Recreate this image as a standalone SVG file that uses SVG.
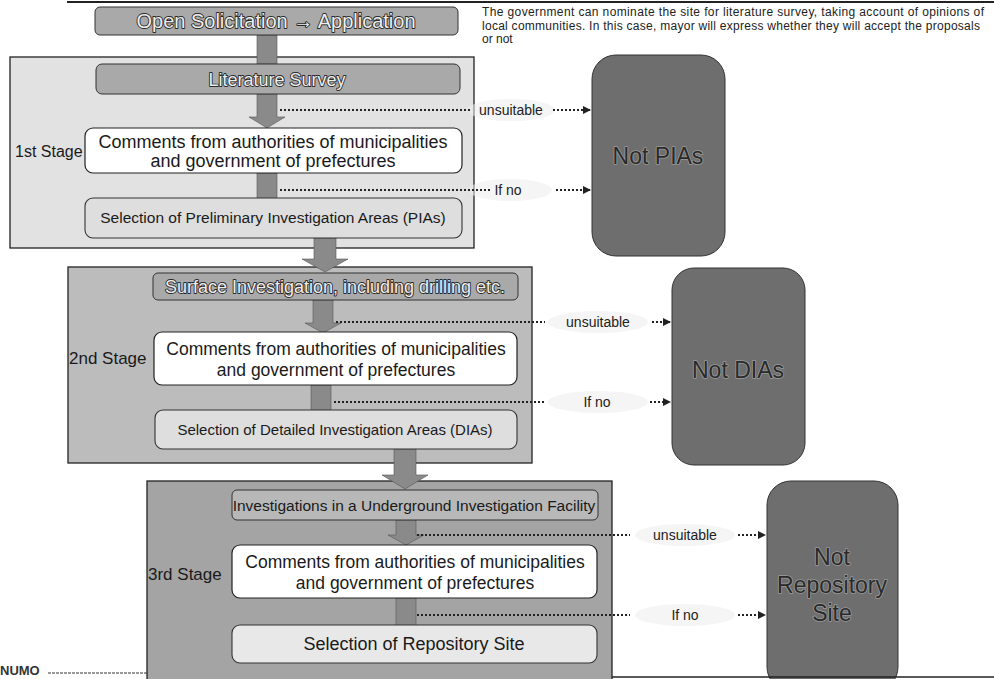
<svg xmlns="http://www.w3.org/2000/svg" width="994" height="679" viewBox="0 0 994 679">
<style>
text{font-family:"Liberation Sans",Arial,sans-serif}
.stage{stroke:#222;stroke-width:1.3}
.s1{fill:#e2e2e2}.s2{fill:#bcbcbc}.s3{fill:#a4a4a4}
.step{fill:#a9a9a9;stroke:#333;stroke-width:1}
.white{fill:#fff;stroke:#222;stroke-width:1.2}
.sel{fill:#dedede;stroke:#333;stroke-width:1.1}
.notbox{fill:#6e6e6e;stroke:#333;stroke-width:1}
.ot{fill:#eeeeee;stroke:#2a2a2a;stroke-width:1.8;paint-order:stroke;stroke-linejoin:round}
.dk{fill:#1a1a1a}
.nt{fill:#2a2a2a;stroke:#9a9a9a;stroke-width:1.6;paint-order:stroke;stroke-linejoin:round;font-size:23px;text-anchor:middle}
.lbl{fill:#222;font-size:14px;text-anchor:middle}
.halo{fill:#ececec;opacity:0.55}
.big{fill:#8a8a8a;stroke:#555;stroke-width:0.6}
.dot{fill:none;stroke:#222;stroke-width:2;stroke-dasharray:2 2}
.note{font-size:12px;fill:#222}
</style>
<defs>
<marker id="ah" markerWidth="8" markerHeight="8" refX="7" refY="4" orient="auto" markerUnits="userSpaceOnUse">
<path d="M0,0 L8,4 L0,8 z" fill="#222"/>
</marker>
</defs>
<rect width="994" height="679" fill="#fff"/>
<line x1="67" y1="2" x2="994" y2="2" stroke="#222" stroke-width="2"/>

<g id="note">
<text class="note" x="482" y="16" textLength="502" lengthAdjust="spacing">The government can nominate the site for literature survey, taking account of opinions of</text>
<text class="note" x="482" y="29.5" textLength="498" lengthAdjust="spacing">local communities. In this case, mayor will express whether they will accept the proposals</text>
<text class="note" x="482" y="43">or not</text>
</g>

<g id="stage1"><rect class="stage s1" x="10" y="57" width="464" height="191"/>
<text x="15" y="157" font-size="16" class="dk">1st Stage</text></g>
<g id="stage2"><rect class="stage s2" x="68" y="267" width="464" height="196"/>
<text x="69" y="364" font-size="17" class="dk">2nd Stage</text></g>
<g id="stage3"><rect class="stage s3" x="147" y="481" width="465" height="200"/>
<text x="148" y="580" font-size="17" class="dk">3rd Stage</text></g>

<g id="connectors">
<path class="big" d="M257,35 H277 V64 H257 Z"/>
<path class="big" d="M257,94 H277 V117 H285 L267,128 L249,117 H257 Z"/>
<path class="big" d="M257,173 H277 V199 H257 Z"/>
<path class="big" d="M314,238 H336 V259 H348 L325,272 L302,259 H314 Z"/>
<path class="big" d="M313,300 H333 V323 H341 L323,333 L305,323 H313 Z"/>
<path class="big" d="M311,385 H331 V411 H311 Z"/>
<path class="big" d="M394,449 H416 V475 H428 L405,489 L382,475 H394 Z"/>
<path class="big" d="M396,520 H416 V535 H424 L406,545 L388,535 H396 Z"/>
<path class="big" d="M396,598 H416 V626 H396 Z"/>

<ellipse class="halo" cx="511" cy="110" rx="44" ry="11"/>
<path class="dot" d="M280,110 H472"/>
<text class="lbl" x="511" y="115">unsuitable</text>
<path class="dot" d="M553,110 H590" marker-end="url(#ah)"/>
<ellipse class="halo" cx="510" cy="190" rx="42" ry="11"/>
<path class="dot" d="M280,190 H490"/>
<text class="lbl" x="508" y="195">If no</text>
<path class="dot" d="M556,190 H590" marker-end="url(#ah)"/>

<ellipse class="halo" cx="598" cy="322" rx="50" ry="11"/>
<path class="dot" d="M336,322 H545"/>
<text class="lbl" x="598" y="327">unsuitable</text>
<path class="dot" d="M652,322 H670" marker-end="url(#ah)"/>
<ellipse class="halo" cx="598" cy="402" rx="50" ry="11"/>
<path class="dot" d="M334,402 H545"/>
<text class="lbl" x="597" y="407">If no</text>
<path class="dot" d="M650,402 H670" marker-end="url(#ah)"/>

<ellipse class="halo" cx="685" cy="535" rx="50" ry="11"/>
<path class="dot" d="M417,535 H630"/>
<text class="lbl" x="685" y="540">unsuitable</text>
<path class="dot" d="M738,535 H765" marker-end="url(#ah)"/>
<ellipse class="halo" cx="685" cy="615" rx="50" ry="11"/>
<path class="dot" d="M417,615 H630"/>
<text class="lbl" x="685" y="620">If no</text>
<path class="dot" d="M738,615 H765" marker-end="url(#ah)"/>
</g>

<g id="open"><rect class="step" x="95" y="7" width="363" height="28" rx="5"/>
<text class="ot" x="276" y="28" font-size="20" text-anchor="middle">Open Solicitation → Application</text></g>
<g id="lit"><rect class="step" x="96" y="64" width="364" height="30" rx="6"/>
<text class="ot" x="277" y="86" font-size="18" text-anchor="middle">Literature Survey</text></g>
<g id="comments1"><rect class="white" x="85" y="128" width="377" height="45" rx="8"/>
<text class="dk" x="273" y="148" font-size="18" text-anchor="middle">Comments from authorities of municipalities</text>
<text class="dk" x="273" y="167" font-size="18" text-anchor="middle">and government of prefectures</text></g>
<g id="pias"><rect class="sel" x="85" y="198" width="377" height="40" rx="8"/>
<text class="dk" x="273" y="223" font-size="15.5" text-anchor="middle">Selection of Preliminary Investigation Areas (PIAs)</text></g>
<g id="notpias"><rect class="notbox" x="592" y="55" width="133" height="201" rx="24"/>
<text class="nt" x="658" y="164">Not PIAs</text></g>

<g id="surface"><rect class="step" x="153" y="273" width="365" height="27" rx="5"/>
<text class="ot" x="335" y="293" font-size="18" text-anchor="middle">Surface Investigation, including drilling etc.</text></g>
<g id="comments2"><rect class="white" x="154" y="332" width="363" height="53" rx="8"/>
<text class="dk" x="336" y="355" font-size="17.5" text-anchor="middle">Comments from authorities of municipalities</text>
<text class="dk" x="336" y="376" font-size="17.5" text-anchor="middle">and government of prefectures</text></g>
<g id="dias"><rect class="sel" x="155" y="410" width="362" height="39" rx="8"/>
<text class="dk" x="335" y="435" font-size="15" text-anchor="middle">Selection of Detailed Investigation Areas (DIAs)</text></g>
<g id="notdias"><rect class="notbox" x="672" y="268" width="133" height="197" rx="22"/>
<text class="nt" x="738" y="378">Not DIAs</text></g>

<g id="invest"><rect class="step" x="232" y="490" width="366" height="30" rx="5" style="fill:#b8b8b8"/>
<text class="dk" x="414" y="511" font-size="15.5" text-anchor="middle">Investigations in a Underground Investigation Facility</text></g>
<g id="comments3"><rect class="white" x="232" y="545" width="365" height="53" rx="8"/>
<text class="dk" x="415" y="568" font-size="17.5" text-anchor="middle">Comments from authorities of municipalities</text>
<text class="dk" x="415" y="589" font-size="17.5" text-anchor="middle">and government of prefectures</text></g>
<g id="repo"><rect class="sel" x="232" y="625" width="365" height="38" rx="8" style="fill:#e8e8e8"/>
<text class="dk" x="414" y="650" font-size="18" text-anchor="middle">Selection of Repository Site</text></g>
<g id="notrepo"><rect class="notbox" x="767" y="481" width="131" height="210" rx="24"/>
<text class="nt" x="832" y="565">Not</text>
<text class="nt" x="832" y="593">Repository</text>
<text class="nt" x="832" y="621">Site</text></g>

<g id="footer">
<text x="0" y="675" font-family="Liberation Serif" font-weight="bold" font-size="13" fill="#333">NUMO</text>
<line x1="48" y1="673" x2="147" y2="673" stroke="#333" stroke-width="1" stroke-dasharray="3 1"/>
<line x1="612" y1="677" x2="994" y2="677" stroke="#222" stroke-width="1.5"/>
</g>
</svg>
